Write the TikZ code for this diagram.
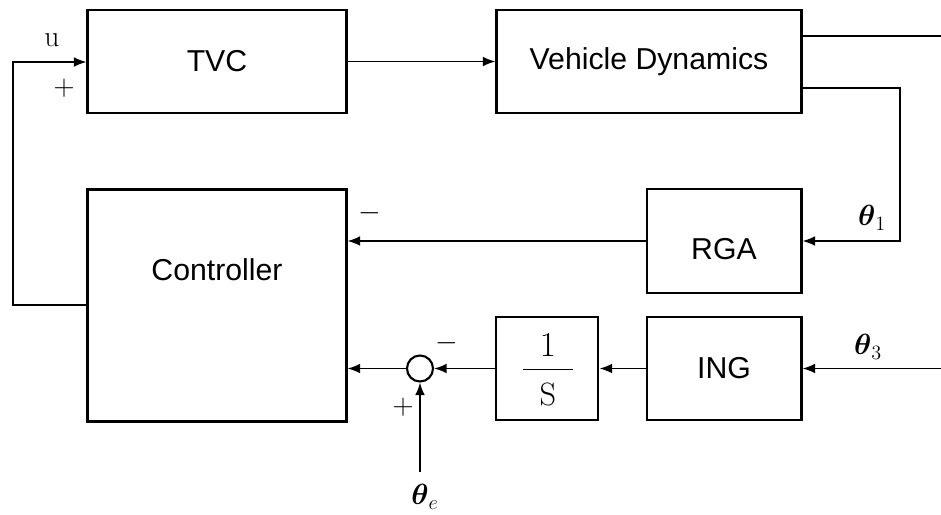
\documentclass[tikz,border=0pt]{standalone}
\usepackage{amsmath}
\usepackage{fontspec}
\setsansfont{Liberation Sans}
\usetikzlibrary{arrows.meta}
\tikzset{
  blk/.style={draw,line width=2.1pt,inner sep=0pt,font=\sffamily\fontsize{21.5}{25}\selectfont},
  txt/.style={font=\sffamily\fontsize{21.5}{25}\selectfont},
  sig/.style={line width=1.2pt,-{Latex[length=9pt,width=7pt]}},
  wire/.style={line width=1.2pt},
  lbl/.style={font=\fontsize{21}{25}\selectfont}
}
\begin{document}
\begin{tikzpicture}[x=0.025cm,y=-0.025cm]
    \useasboundingbox (0,0) rectangle (941,514);
    \node[blk,minimum width=6.45cm,minimum height=2.575cm] (tvc) at (217,61.5) {TVC};
    \node[blk,minimum width=7.6cm,minimum height=2.575cm] (vd) at (649,61.5) {Vehicle Dynamics};
    \node[blk,minimum width=6.45cm,minimum height=5.775cm] (ctrl) at (217,305.5) {};
    \node[txt] (ctrltxt) at (217,270) {Controller};
    \node[blk,minimum width=3.85cm,minimum height=2.6cm] (rga) at (724,241) {};
    \node[txt] (rgatxt) at (724,249) {RGA};
    \node[blk,minimum width=3.85cm,minimum height=2.575cm] (ing) at (724,368.5) {ING};
    \node[blk,minimum width=2.55cm,minimum height=2.575cm] (integ) at (547,368.5) {};
    \node[lbl,font=\fontsize{23}{27}\selectfont] (one) at (548,345) {$1$};
    \node[lbl,font=\fontsize{23}{27}\selectfont] (ess) at (548,394) {$\mathrm{S}$};
    \draw[line width=1pt] (523,369.5) -- (573,369.5);
    \node[draw,circle,line width=1.5pt,minimum size=0.65cm,inner sep=0pt] (sum) at (420,368.5) {};
    \coordinate (out) at (941,36); \coordinate (fb) at (900,88);
    \coordinate (in3) at (941,368.5); \coordinate (the) at (420,472);
    \coordinate (c1) at (13,305); \coordinate (c2) at (13,62);
    \draw[sig] (tvc.east) -- (vd.west);
    \draw[wire] (vd.east |- out) -- (out);
    \draw[sig] (vd.east |- fb) -- (fb) |- (rga.east);
    \draw[sig] (rga.west) -- (rga.west -| ctrl.east);
    \draw[sig] (in3) -- (ing.east); \draw[sig] (ing.west) -- (integ.east);
    \draw[sig] (integ.west) -- (sum.east); \draw[sig] (sum.west) -- (sum.west -| ctrl.east);
    \draw[sig] (the) -- (sum.south);
    \draw[sig] (c1 -| ctrl.west) -- (c1) -- (c2) -- (c2 -| tvc.west);
    \node[lbl] (lu) at (52,40) {$\mathrm{u}$}; \node[lbl] (lp1) at (64,88) {$+$};
    \node[lbl] (lm1) at (370,213) {$-$}; \node[lbl] (lt1) at (872,218) {$\boldsymbol{\theta}_1$};
    \node[lbl] (lt3) at (868,347) {$\boldsymbol{\theta}_3$}; \node[lbl] (lm2) at (447,343) {$-$};
    \node[lbl] (lp2) at (403,407) {$+$}; \node[lbl] (lte) at (425,497) {$\boldsymbol{\theta}_e$};
\end{tikzpicture}
\end{document}
